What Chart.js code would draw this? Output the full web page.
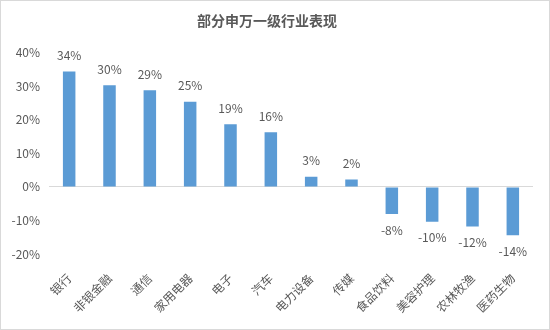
<!DOCTYPE html>
<html>
<head>
<meta charset="utf-8">
<script src="https://cdn.jsdelivr.net/npm/chart.js@4"></script>
<style>
  body { margin: 0; background: #fff; }
  #wrap { width: 550px; height: 330px; box-sizing: border-box; border: 1px solid #d9d9d9; }
</style>
</head>
<body>
<div id="wrap"><canvas id="chart" width="548" height="328"></canvas></div>
<script>
const categories = ["银行", "非银金融", "通信", "家用电器", "电子", "汽车", "电力设备", "传媒", "食品饮料", "美容护理", "农林牧渔", "医药生物"];
const performance = [34.4, 30.3, 28.8, 25.4, 18.7, 16.3, 3.0, 2.2, -8.1, -10.4, -11.8, -14.4];
const yTicks = [-20, -10, 0, 10, 20, 30, 40];

const FONT = "'Noto Sans CJK SC', 'Noto Sans', sans-serif";
const GREY = "#595959";

// labels above / below each bar
const barLabels = {
  id: "barLabels",
  afterDatasetsDraw(chart) {
    const ctx = chart.ctx;
    const meta = chart.getDatasetMeta(0);
    ctx.save();
    ctx.font = "12px " + FONT;
    ctx.fillStyle = GREY;
    ctx.textAlign = "center";
    ctx.textBaseline = "middle";
    meta.data.forEach((bar, i) => {
      const v = performance[i];
      const y = v >= 0 ? bar.y - 16 : bar.y + 16;
      ctx.fillText(Math.round(v) + "%", bar.x, y);
    });
    ctx.restore();
  }
};

new Chart(document.getElementById("chart").getContext("2d"), {
  type: "bar",
  data: {
    labels: categories,
    datasets: [{
      data: performance,
      backgroundColor: "#5B9BD5",
      barPercentage: 0.31,
      categoryPercentage: 1
    }]
  },
  options: {
    responsive: false,
    animation: false,
    layout: { padding: { left: 0, right: 16, top: 0, bottom: 0 } },
    plugins: {
      legend: { display: false },
      tooltip: { enabled: false },
      title: {
        display: true,
        text: "部分申万一级行业表现",
        color: GREY,
        font: { family: FONT, size: 14, weight: "bold" },
        padding: { top: 11, bottom: 24 }
      }
    },
    scales: {
      x: {
        grid: { display: false },
        border: { display: false },
        ticks: {
          color: GREY,
          font: { family: FONT, size: 12 },
          maxRotation: 45,
          minRotation: 45,
          padding: 9
        },
        afterFit(scale) { scale.height = 75; }
      },
      y: {
        min: yTicks[0],
        max: yTicks[yTicks.length - 1],
        afterBuildTicks(scale) { scale.ticks = yTicks.map(v => ({ value: v })); },
        grid: {
          drawTicks: false,
          color: c => c.tick && c.tick.value === 0 ? "#d9d9d9" : "rgba(0,0,0,0)",
          lineWidth: 1
        },
        border: { display: false },
        ticks: {
          color: GREY,
          font: { family: FONT, size: 12 },
          padding: 9,
          callback: v => v + "%"
        },
        afterFit(scale) { scale.width = 48; }
      }
    }
  },
  plugins: [barLabels]
});
</script>
</body>
</html>
